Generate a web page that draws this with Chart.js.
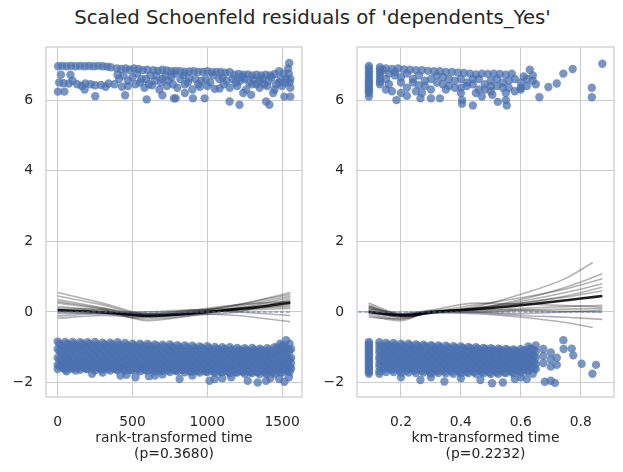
<!DOCTYPE html>
<html lang="en">
<head>
<meta charset="UTF-8">
<title>Scaled Schoenfeld residuals</title>
<script src="https://cdn.jsdelivr.net/npm/chart.js"></script>
<style>
    body { margin: 0; background: #ffffff; width: 623px; height: 472px; position: relative; overflow: hidden; }
    #title { position: absolute; left: 1px; top: 6px; width: 623px; text-align: center;
             font-family: 'DejaVu Sans'; font-size: 19.7px; color: #262626; line-height: 24px; }
    .panel { position: absolute; top: 0; }
    #panelRank { left: 0; }
    #panelKm { left: 311px; }
</style>
</head>
<body>
<div id="title">Scaled Schoenfeld residuals of 'dependents_Yes'</div>
<div class="panel" id="panelRank"><canvas id="chartRank" width="311" height="472"></canvas></div>
<div class="panel" id="panelKm"><canvas id="chartKm" width="312" height="472"></canvas></div>
<script>
// ---- axes ----
var yTicks = [-2, 0, 2, 4, 6];
var rankTicks = [0, 500, 1000, 1500];
var kmTicks = [0.2, 0.4, 0.6, 0.8];

// ---- rank-transformed time: residuals around +6.5 ----
var rankUpper = [
    [3,6.96],[30,6.97],[60,6.96],[90,6.97],[120,6.96],[150,6.97],[180,6.96],[210,6.97],[240,6.96],[270,6.97],[300,6.96],[330,6.95],[355,6.93],
    [395,6.9],[425,6.88],[455,6.9],[480,6.86],[510,6.9],[540,6.88],[570,6.85],[600,6.86],[640,6.85],[670,6.83],[700,6.86],[730,6.84],
    [760,6.82],[790,6.83],[820,6.82],[850,6.8],[880,6.81],[910,6.82],[940,6.8],[970,6.8],[1000,6.82],[1030,6.79],[1060,6.8],[1090,6.8],
    [1120,6.78],[1150,6.79],[1180,6.72],[1210,6.74],[1240,6.72],[1270,6.73],[1300,6.7],[1330,6.72],[1360,6.7],[1390,6.72],[1420,6.7],
    [1450,6.74],[1480,6.82],[1510,6.75],[1540,6.9],[1548,7.05],
    [22,6.72],[85,6.72],[400,6.72],[560,6.6],[620,6.7],[700,6.6],[760,6.65],[880,6.62],[960,6.55],[1080,6.6],[1250,6.6],[1350,6.55],
    [1530,6.6],[1480,6.5],
    [40,6.48],[75,6.47],[130,6.45],[185,6.47],[250,6.42],[290,6.43],[340,6.47],[380,6.45],[430,6.38],[470,6.4],[520,6.45],[580,6.35],
    [630,6.42],[680,6.3],[730,6.4],[800,6.35],[850,6.45],[900,6.3],[950,6.38],[1000,6.4],[1050,6.32],[1110,6.45],[1150,6.35],[1200,6.4],
    [1260,6.3],[1300,6.45],[1350,6.35],[1400,6.4],[1450,6.3],[1500,6.4],[1555,6.35],
    [410,6.6],[440,6.7],[470,6.55],[500,6.65],[530,6.75],[550,6.5],[590,6.6],[610,6.45],[650,6.55],[660,6.7],[690,6.5],[720,6.7],
    [740,6.55],[770,6.45],[780,6.75],[820,6.6],[840,6.7],[870,6.5],[920,6.6],[940,6.45],[990,6.6],[1020,6.5],[1040,6.7],[1100,6.65],
    [1130,6.55],[1170,6.6],[1190,6.5],[1220,6.55],[1230,6.65],[1280,6.5],[1310,6.6],[1330,6.45],[1370,6.6],[1380,6.45],[1410,6.55],
    [1430,6.65],[1460,6.45],[1490,6.6],[1520,6.5],[1545,6.75],[1550,6.5],[1555,6.6],
    [10,6.5],[100,6.55],[160,6.4],[220,6.45],[320,6.38],
    [2,6.24],[45,6.24],[180,6.3],[251,6.11],[451,6.14],[595,6.02],[700,6.14],[777,6.05],[789,6.05],[850,6.2],[904,6.05],[982,6.05],
    [1082,6.33],[1149,5.96],[1215,5.87],[1240,6.2],[1293,6.15],[1393,5.96],[1415,5.87],[1440,6.2],[1515,6.1],[1555,6.1]
];

// ---- rank-transformed time: dense band around -1.3, read as four interleaved row sets ----
var rankBandX = [0,50,100,150,200,250,300,350,400,450,500,550,600,650,700,750,800,850,900,950,1000,1050,1100,1150,1200,1250,1300,1350,1400,1450,1500,1550];
var rankBandRows = [
    [-0.84,-0.85,-0.85,-0.86,-0.86,-0.85,-0.87,-0.87,-0.86,-0.88,-0.9,-0.9,-0.91,-0.92,-0.93,-0.92,-0.94,-0.95,-0.96,-0.98,-0.97,-0.99,-1.0,-1.0,-1.02,-1.03,-1.02,-1.04,-1.03,-1.0,-0.95,-0.9],
    [-1.05,-1.04,-1.06,-1.05,-1.07,-1.06,-1.08,-1.07,-1.09,-1.08,-1.1,-1.11,-1.1,-1.12,-1.13,-1.12,-1.14,-1.15,-1.14,-1.16,-1.17,-1.16,-1.18,-1.19,-1.18,-1.2,-1.21,-1.2,-1.22,-1.18,-1.12,-1.1],
    [-1.3,-1.28,-1.3,-1.29,-1.31,-1.3,-1.32,-1.31,-1.33,-1.32,-1.33,-1.34,-1.33,-1.35,-1.34,-1.36,-1.35,-1.36,-1.37,-1.36,-1.38,-1.37,-1.38,-1.39,-1.38,-1.4,-1.39,-1.4,-1.41,-1.4,-1.38,-1.35],
    [-1.5,-1.48,-1.5,-1.49,-1.51,-1.5,-1.52,-1.5,-1.53,-1.52,-1.53,-1.54,-1.53,-1.55,-1.54,-1.56,-1.55,-1.56,-1.57,-1.56,-1.58,-1.57,-1.58,-1.59,-1.58,-1.6,-1.59,-1.6,-1.61,-1.6,-1.58,-1.55],
    [-1.62,-1.63,-1.6,-1.64,-1.62,-1.65,-1.63,-1.66,-1.64,-1.67,-1.65,-1.68,-1.66,-1.69,-1.67,-1.7,-1.68,-1.71,-1.69,-1.72,-1.7,-1.73,-1.71,-1.74,-1.72,-1.75,-1.73,-1.76,-1.74,-1.75,-1.72,-1.7]
];
var rankStaggerX = [25,75,125,175,225,275,325,375,425,475,525,575,625,675,725,775,825,875,925,975,1025,1075,1125,1175,1225,1275,1325,1375,1425,1475,1525];
var rankStaggerRows = [
    [-0.95,-0.94,-0.96,-0.95,-0.96,-0.97,-0.97,-0.98,-0.98,-0.99,-1.0,-1.0,-1.01,-1.02,-1.03,-1.03,-1.04,-1.05,-1.06,-1.07,-1.07,-1.08,-1.09,-1.1,-1.11,-1.12,-1.12,-1.13,-1.12,-1.08,-1.02],
    [-1.17,-1.16,-1.18,-1.17,-1.19,-1.18,-1.2,-1.19,-1.21,-1.2,-1.22,-1.22,-1.23,-1.23,-1.24,-1.24,-1.25,-1.25,-1.26,-1.26,-1.27,-1.27,-1.28,-1.28,-1.29,-1.3,-1.3,-1.31,-1.3,-1.28,-1.24],
    [-1.4,-1.39,-1.4,-1.4,-1.41,-1.41,-1.42,-1.41,-1.43,-1.42,-1.44,-1.43,-1.44,-1.45,-1.45,-1.46,-1.46,-1.46,-1.47,-1.47,-1.48,-1.48,-1.49,-1.49,-1.49,-1.5,-1.5,-1.51,-1.5,-1.49,-1.46],
    [-1.56,-1.57,-1.56,-1.57,-1.58,-1.58,-1.58,-1.59,-1.59,-1.6,-1.6,-1.61,-1.61,-1.62,-1.62,-1.63,-1.63,-1.64,-1.64,-1.65,-1.65,-1.66,-1.66,-1.67,-1.67,-1.68,-1.68,-1.69,-1.68,-1.66,-1.63]
];
var rankFillAX = [12,62,112,162,212,262,312,362,412,462,512,562,612,662,712,762,812,862,912,962,1012,1062,1112,1162,1212,1262,1312,1362,1412,1462,1512];
var rankFillARows = [
    [-0.9,-0.9,-0.91,-0.9,-0.91,-0.92,-0.92,-0.92,-0.93,-0.94,-0.95,-0.95,-0.96,-0.97,-0.98,-0.98,-0.99,-1.0,-1.01,-1.02,-1.03,-1.04,-1.05,-1.06,-1.07,-1.08,-1.07,-1.08,-1.07,-1.02,-0.96],
    [-1.11,-1.1,-1.12,-1.11,-1.13,-1.12,-1.14,-1.13,-1.15,-1.14,-1.16,-1.16,-1.17,-1.17,-1.18,-1.18,-1.19,-1.2,-1.2,-1.21,-1.22,-1.22,-1.23,-1.24,-1.24,-1.25,-1.25,-1.26,-1.26,-1.23,-1.18],
    [-1.35,-1.34,-1.35,-1.35,-1.36,-1.36,-1.37,-1.36,-1.38,-1.37,-1.38,-1.39,-1.39,-1.4,-1.4,-1.41,-1.41,-1.41,-1.42,-1.42,-1.43,-1.43,-1.44,-1.44,-1.44,-1.45,-1.45,-1.46,-1.46,-1.45,-1.42],
    [-1.53,-1.52,-1.53,-1.53,-1.54,-1.54,-1.55,-1.55,-1.56,-1.56,-1.57,-1.57,-1.57,-1.58,-1.58,-1.59,-1.59,-1.6,-1.6,-1.6,-1.61,-1.61,-1.62,-1.62,-1.63,-1.63,-1.64,-1.64,-1.64,-1.63,-1.6]
];
var rankFillBX = [37,87,137,187,237,287,337,387,437,487,537,587,637,687,737,787,837,887,937,987,1037,1087,1137,1187,1237,1287,1337,1387,1437,1487,1537];
var rankFillBRows = [
    [-1.0,-0.99,-1.01,-1.0,-1.02,-1.02,-1.03,-1.03,-1.04,-1.04,-1.05,-1.06,-1.06,-1.07,-1.08,-1.08,-1.09,-1.1,-1.1,-1.11,-1.12,-1.13,-1.13,-1.14,-1.15,-1.16,-1.16,-1.17,-1.17,-1.13,-1.06],
    [-1.24,-1.22,-1.24,-1.23,-1.25,-1.24,-1.26,-1.25,-1.27,-1.26,-1.28,-1.28,-1.28,-1.29,-1.29,-1.3,-1.3,-1.31,-1.31,-1.32,-1.32,-1.33,-1.33,-1.34,-1.34,-1.35,-1.35,-1.36,-1.36,-1.34,-1.3],
    [-1.45,-1.44,-1.45,-1.45,-1.46,-1.46,-1.47,-1.46,-1.48,-1.47,-1.49,-1.49,-1.49,-1.5,-1.5,-1.51,-1.51,-1.51,-1.52,-1.52,-1.53,-1.53,-1.54,-1.54,-1.54,-1.55,-1.55,-1.56,-1.56,-1.55,-1.52],
    [-1.59,-1.6,-1.58,-1.61,-1.6,-1.62,-1.61,-1.63,-1.62,-1.64,-1.63,-1.65,-1.64,-1.66,-1.65,-1.67,-1.66,-1.68,-1.67,-1.69,-1.68,-1.7,-1.69,-1.71,-1.7,-1.72,-1.71,-1.73,-1.72,-1.71,-1.68]
];
var rankLower = [
    [60,-1.68],[120,-1.66],[230,-1.75],[300,-1.72],[420,-1.8],[460,-1.78],[520,-1.85],[610,-1.82],[650,-1.8],[700,-1.77],[815,-1.9],
    [900,-1.8],[1015,-1.95],[1050,-1.9],[1100,-1.88],[1160,-1.85],[1270,-1.95],[1337,-2.0],[1393,-1.95],[1420,-1.88],[1480,-1.9],
    [1515,-1.98],[1545,-1.85],[1560,-1.6],[1560,-1.3],[1527,-0.8],[1487,-0.9],[1560,-1.05],[1560,-1.45]
];

// ---- rank-transformed time: lowess curves ----
var rankBestX = [0, 200, 400, 600, 800, 1000, 1200, 1400, 1555];
var rankBestY = [0.05, 0.02, -0.05, -0.11, -0.08, 0.0, 0.08, 0.17, 0.26];
var rankGreyX = [0, 300, 600, 900, 1200, 1555];
var rankGreyY = [
    [0.55, 0.25, -0.05, 0.0, 0.2, 0.5],
    [0.45, 0.2, -0.08, -0.02, 0.15, 0.45],
    [0.35, 0.12, -0.1, 0.02, 0.2, 0.55],
    [0.25, 0.08, -0.12, -0.05, 0.1, 0.3],
    [0.15, 0.05, -0.15, -0.05, 0.05, 0.2],
    [0.05, 0.0, -0.05, 0.05, 0.1, 0.15],
    [-0.05, -0.02, -0.1, 0.0, 0.05, 0.1],
    [-0.12, -0.05, -0.2, -0.1, 0.0, 0.35],
    [-0.18, -0.1, -0.15, -0.05, -0.1, -0.28],
    [0.1, 0.05, -0.25, -0.1, 0.1, 0.4],
    [0.0, -0.05, 0.0, 0.05, 0.0, -0.1],
    [0.3, 0.1, -0.05, 0.05, 0.2, 0.3]
];

// ---- km-transformed time: residuals around +6.5 ----
var kmUpper = [
    [0.093,6.97],[0.093,6.9],[0.093,6.82],[0.093,6.75],[0.093,6.68],[0.093,6.6],[0.093,6.55],[0.093,6.48],[0.093,6.42],[0.093,6.36],
    [0.093,6.3],[0.093,6.25],[0.093,6.2],[0.093,6.1],
    [0.13,6.93],[0.13,6.86],[0.13,6.78],[0.13,6.7],[0.13,6.6],[0.13,6.52],[0.13,6.45],
    [0.15,6.9],[0.17,6.88],[0.19,6.9],[0.21,6.87],[0.23,6.86],[0.25,6.85],[0.27,6.85],[0.29,6.83],[0.31,6.82],[0.33,6.82],[0.35,6.8],
    [0.37,6.8],[0.39,6.78],[0.41,6.77],[0.43,6.75],[0.45,6.73],[0.47,6.75],[0.49,6.74],[0.51,6.75],[0.53,6.74],[0.55,6.72],[0.57,6.75],
    [0.15,6.6],[0.16,6.45],[0.18,6.7],[0.2,6.5],[0.22,6.35],[0.24,6.6],[0.26,6.42],[0.28,6.55],[0.3,6.3],[0.32,6.5],[0.34,6.65],
    [0.36,6.4],[0.38,6.55],[0.4,6.35],[0.42,6.5],[0.44,6.6],[0.46,6.3],[0.48,6.45],[0.5,6.55],[0.52,6.4],[0.54,6.5],[0.56,6.35],
    [0.58,6.25],[0.6,6.5],[0.61,6.67],[0.62,6.4],[0.63,6.86],[0.64,6.55],
    [0.14,6.85],[0.16,6.75],[0.18,6.8],[0.2,6.65],[0.22,6.75],[0.24,6.5],[0.26,6.7],[0.28,6.4],[0.3,6.6],[0.32,6.7],[0.34,6.45],
    [0.36,6.6],[0.38,6.35],[0.4,6.6],[0.42,6.4],[0.44,6.45],[0.46,6.6],[0.48,6.3],[0.5,6.4],[0.52,6.6],[0.54,6.35],[0.56,6.55],
    [0.58,6.6],[0.6,6.35],[0.62,6.6],[0.64,6.7],[0.65,6.45],
    [0.15,6.3],[0.17,6.25],[0.2,6.2],[0.25,6.25],[0.27,6.2],[0.35,6.3],[0.4,6.2],[0.45,6.2],[0.5,6.25],[0.55,6.2],[0.6,6.3],
    [0.185,6.0],[0.22,6.12],[0.265,6.05],[0.3,6.05],[0.33,6.05],[0.404,6.0],[0.404,5.9],[0.44,5.85],[0.47,6.1],[0.505,6.15],
    [0.523,5.95],[0.553,5.85],[0.55,6.0],
    [0.662,6.08],[0.692,6.37],[0.72,6.47],[0.742,6.75],[0.773,6.88],[0.837,6.35],[0.837,6.08],[0.872,7.03]
];

// ---- km-transformed time: dense band around -1.3, read as four interleaved row sets ----
var kmBandX = [0.093,0.128,0.15,0.175,0.2,0.225,0.25,0.275,0.3,0.325,0.35,0.375,0.4,0.425,0.45,0.475,0.5,0.525,0.55,0.575,0.6,0.625,0.65];
var kmBandRows = [
    [-0.85,-0.86,-0.88,-0.88,-0.9,-0.9,-0.92,-0.93,-0.94,-0.95,-0.96,-0.97,-0.98,-0.99,-1.0,-1.02,-1.03,-1.04,-1.05,-1.06,-1.05,-0.98,-0.95],
    [-1.05,-1.06,-1.08,-1.08,-1.1,-1.1,-1.12,-1.12,-1.13,-1.14,-1.15,-1.15,-1.16,-1.17,-1.18,-1.19,-1.2,-1.2,-1.21,-1.22,-1.2,-1.15,-1.12],
    [-1.25,-1.27,-1.28,-1.28,-1.3,-1.3,-1.31,-1.32,-1.32,-1.33,-1.34,-1.34,-1.35,-1.36,-1.36,-1.37,-1.38,-1.38,-1.38,-1.4,-1.38,-1.33,-1.3],
    [-1.45,-1.47,-1.48,-1.49,-1.5,-1.5,-1.51,-1.52,-1.52,-1.53,-1.54,-1.54,-1.55,-1.55,-1.56,-1.57,-1.57,-1.58,-1.58,-1.58,-1.56,-1.5,-1.48],
    [-1.65,-1.68,-1.7,-1.7,-1.72,-1.72,-1.73,-1.72,-1.74,-1.73,-1.74,-1.75,-1.74,-1.73,-1.75,-1.74,-1.76,-1.75,-1.73,-1.74,-1.72,-1.68,-1.62]
];
var kmStaggerX = [0.14,0.1625,0.1875,0.2125,0.2375,0.2625,0.2875,0.3125,0.3375,0.3625,0.3875,0.4125,0.4375,0.4625,0.4875,0.5125,0.5375,0.5625,0.5875,0.6125,0.6375];
var kmStaggerRows = [
    [-0.97,-0.98,-0.99,-1.0,-1.01,-1.02,-1.03,-1.04,-1.05,-1.05,-1.06,-1.07,-1.08,-1.09,-1.1,-1.11,-1.12,-1.13,-1.14,-1.1,-1.05],
    [-1.18,-1.19,-1.2,-1.2,-1.21,-1.22,-1.22,-1.23,-1.24,-1.25,-1.25,-1.26,-1.27,-1.27,-1.28,-1.29,-1.3,-1.3,-1.3,-1.27,-1.22],
    [-1.38,-1.39,-1.4,-1.4,-1.41,-1.42,-1.42,-1.43,-1.43,-1.44,-1.45,-1.45,-1.46,-1.46,-1.47,-1.47,-1.48,-1.48,-1.48,-1.45,-1.4],
    [-1.58,-1.6,-1.61,-1.61,-1.62,-1.63,-1.63,-1.63,-1.64,-1.64,-1.65,-1.65,-1.65,-1.65,-1.66,-1.66,-1.67,-1.66,-1.65,-1.62,-1.58]
];
var kmFillAX = [0.156,0.181,0.206,0.231,0.256,0.281,0.306,0.331,0.356,0.381,0.406,0.431,0.456,0.481,0.506,0.531,0.556,0.581,0.606,0.631];
var kmFillARows = [
    [-0.93,-0.94,-0.95,-0.95,-0.96,-0.97,-0.98,-0.99,-1.0,-1.01,-1.02,-1.03,-1.04,-1.05,-1.06,-1.07,-1.08,-1.09,-1.1,-1.04],
    [-1.13,-1.14,-1.15,-1.15,-1.16,-1.17,-1.17,-1.18,-1.19,-1.2,-1.2,-1.21,-1.22,-1.23,-1.24,-1.25,-1.25,-1.26,-1.25,-1.2],
    [-1.33,-1.34,-1.35,-1.35,-1.36,-1.37,-1.37,-1.38,-1.38,-1.39,-1.4,-1.4,-1.41,-1.42,-1.42,-1.43,-1.43,-1.44,-1.43,-1.38],
    [-1.53,-1.54,-1.55,-1.56,-1.56,-1.57,-1.57,-1.58,-1.58,-1.59,-1.6,-1.6,-1.6,-1.61,-1.61,-1.62,-1.62,-1.62,-1.6,-1.55]
];
var kmFillBX = [0.144,0.169,0.194,0.219,0.244,0.269,0.294,0.319,0.344,0.369,0.394,0.419,0.444,0.469,0.494,0.519,0.544,0.569,0.594,0.619,0.644];
var kmFillBRows = [
    [-1.02,-1.03,-1.04,-1.05,-1.05,-1.06,-1.07,-1.08,-1.09,-1.1,-1.1,-1.11,-1.12,-1.13,-1.14,-1.15,-1.16,-1.16,-1.17,-1.13,-1.08],
    [-1.22,-1.23,-1.24,-1.25,-1.25,-1.26,-1.27,-1.27,-1.28,-1.29,-1.29,-1.3,-1.31,-1.31,-1.32,-1.33,-1.34,-1.34,-1.34,-1.3,-1.26],
    [-1.42,-1.43,-1.44,-1.45,-1.45,-1.46,-1.47,-1.47,-1.48,-1.49,-1.49,-1.5,-1.5,-1.51,-1.51,-1.52,-1.52,-1.53,-1.52,-1.48,-1.44],
    [-1.62,-1.64,-1.65,-1.66,-1.66,-1.67,-1.68,-1.68,-1.68,-1.69,-1.69,-1.7,-1.7,-1.7,-1.71,-1.71,-1.71,-1.7,-1.69,-1.66,-1.6]
];
var kmLower = [
    [0.093,-0.9],[0.093,-0.95],[0.093,-1.0],[0.093,-1.1],[0.093,-1.15],[0.093,-1.2],[0.093,-1.3],[0.093,-1.35],[0.093,-1.4],
    [0.093,-1.5],[0.093,-1.55],[0.093,-1.6],[0.093,-1.7],[0.093,-1.75],
    [0.128,-0.95],[0.128,-1.15],[0.128,-1.35],[0.128,-1.55],[0.128,-1.75],
    [0.675,-1.05],[0.675,-1.25],[0.675,-1.45],[0.7,-1.15],[0.7,-1.35],[0.7,-1.55],[0.72,-1.3],[0.72,-1.5],[0.742,-0.8],[0.743,-1.05],
    [0.77,-1.04],[0.775,-1.23],[0.803,-1.47],[0.851,-1.5],[0.839,-1.75],[0.504,-2.02],[0.54,-2.0],[0.58,-1.9],[0.62,-1.9],[0.64,-1.75],
    [0.68,-1.98],[0.7,-1.95],[0.714,-2.01],[0.265,-1.93],[0.345,-1.97],[0.465,-1.93],[0.2,-1.85],[0.4,-1.88],[0.3,-1.85],[0.6,-1.85]
];

// ---- km-transformed time: lowess curves ----
var kmBestX = [0.092, 0.15, 0.22, 0.3, 0.4, 0.5, 0.6, 0.7, 0.8, 0.872];
var kmBestY = [0.0, -0.06, -0.1, -0.02, 0.05, 0.11, 0.19, 0.28, 0.38, 0.45];
var kmGreyX = [0.092, 0.2, 0.3, 0.45, 0.6, 0.75];
var kmGreyEnd = [0.84, 0.872, 0.872, 0.872, 0.872, 0.872, 0.872, 0.872, 0.872, 0.872, 0.84, 0.872, 0.872];
var kmGreyY = [
    [0.15, -0.05, 0.0, 0.15, 0.5, 0.95, 1.4],
    [0.1, -0.1, 0.0, 0.1, 0.35, 0.7, 1.08],
    [0.25, -0.05, 0.02, 0.2, 0.4, 0.65, 0.94],
    [0.05, -0.15, -0.02, 0.1, 0.3, 0.55, 0.8],
    [-0.05, -0.2, 0.0, 0.08, 0.25, 0.45, 0.7],
    [0.2, -0.08, 0.0, 0.12, 0.25, 0.42, 0.6],
    [0.0, -0.12, 0.03, 0.05, 0.1, 0.15, 0.19],
    [0.1, -0.05, 0.05, 0.25, 0.22, 0.18, 0.14],
    [-0.1, -0.25, 0.0, 0.0, 0.05, 0.08, 0.1],
    [0.15, -0.1, 0.02, 0.0, -0.05, 0.0, 0.05],
    [0.0, -0.15, -0.03, -0.05, -0.15, -0.3, -0.44],
    [0.05, -0.1, 0.0, -0.02, -0.1, -0.15, -0.21],
    [-0.15, -0.2, 0.0, 0.05, 0.05, 0.02, 0.0]
];

// ---- style ----
var FONT = 'DejaVu Sans';
var TEXT = '#262626';
var GRID = '#cccccc';
var DOT = 'rgba(76, 114, 176, 0.75)';
var ZERO = '#4c72b0';

function toPoints(pairs) {
    return pairs.map(function (p) { return { x: p[0], y: p[1] }; });
}
function bandPoints(xs, rows) {
    var pts = [];
    rows.forEach(function (row) {
        row.forEach(function (y, i) { pts.push({ x: xs[i], y: y }); });
    });
    return pts;
}
function zip(xs, ys) {
    return ys.map(function (y, i) { return { x: xs[i], y: y }; });
}
function fmtY(v) {
    return v < 0 ? '\u2212' + Math.abs(v) : String(v);
}

var frame = {
    id: 'frame',
    afterDatasetsDraw: function (chart) {
        var a = chart.chartArea, ctx = chart.ctx;
        ctx.save();
        ctx.strokeStyle = GRID;
        ctx.lineWidth = 1.25;
        ctx.strokeRect(a.left, a.top, a.right - a.left, a.bottom - a.top);
        ctx.restore();
    }
};

function lineSet(data, color, width, dash) {
    return {
        data: data, showLine: true, borderColor: color, borderWidth: width,
        borderDash: dash || [], pointRadius: 0, pointHoverRadius: 0,
        cubicInterpolationMode: dash ? 'default' : 'monotone', fill: false
    };
}

function makeChart(canvasId, cfg) {
    var datasets = [];
    datasets.push(lineSet([{ x: 0, y: 0 }, { x: cfg.zeroEnd, y: 0 }], ZERO, 1.1, [4, 1.7]));
    cfg.greys.forEach(function (g) { datasets.push(lineSet(g, 'rgba(0,0,0,0.3)', 1.6)); });
    datasets.push(lineSet(cfg.best, 'rgba(0,0,0,0.88)', 2.6));
    datasets.push({
        data: cfg.points, backgroundColor: DOT, borderWidth: 0,
        pointRadius: 4.2, pointHoverRadius: 4.2, showLine: false
    });

    return new Chart(document.getElementById(canvasId), {
        type: 'scatter',
        data: { datasets: datasets },
        options: {
            responsive: false,
            animation: false,
            devicePixelRatio: 1,
            layout: { padding: { top: 47, right: cfg.padRight, left: 0, bottom: 0 } },
            plugins: { legend: { display: false }, tooltip: { enabled: false } },
            scales: {
                x: {
                    type: 'linear', min: cfg.xMin, max: cfg.xMax,
                    // invisible tick marks push the labels down without widening the side padding
                    grid: { color: GRID, lineWidth: 1, drawTicks: true, tickLength: 14, tickColor: 'rgba(0,0,0,0)' },
                    border: { display: false },
                    afterBuildTicks: function (s) { s.ticks = cfg.xTicks.map(function (v) { return { value: v }; }); },
                    afterFit: function (s) { s.height = 75; },
                    ticks: {
                        color: TEXT, padding: 3, maxRotation: 0,
                        font: { family: FONT, size: 13.9 },
                        callback: function (v) { return String(v); }
                    },
                    title: {
                        display: true, text: cfg.xTitle, color: TEXT,
                        font: { family: FONT, size: 13.9, lineHeight: 1.12 },
                        padding: { top: 0, bottom: 10 }
                    }
                },
                y: {
                    type: 'linear', min: -2.41, max: 7.505,
                    grid: { color: GRID, lineWidth: 1, drawTicks: false },
                    border: { display: false },
                    afterBuildTicks: function (s) { s.ticks = yTicks.map(function (v) { return { value: v }; }); },
                    afterFit: function (s) { s.width = 46; },
                    ticks: {
                        color: TEXT, padding: 13,
                        font: { family: FONT, size: 13.9 },
                        callback: fmtY
                    }
                }
            }
        },
        plugins: [frame]
    });
}

makeChart('chartRank', {
    points: toPoints(rankUpper).concat(
        bandPoints(rankBandX, rankBandRows), bandPoints(rankStaggerX, rankStaggerRows),
        bandPoints(rankFillAX, rankFillARows), bandPoints(rankFillBX, rankFillBRows), toPoints(rankLower)),
    best: zip(rankBestX, rankBestY),
    greys: rankGreyY.map(function (ys) { return zip(rankGreyX, ys); }),
    zeroEnd: 1555,
    xMin: -78, xMax: 1633, xTicks: rankTicks, padRight: 9,
    xTitle: ['rank-transformed time', '(p=0.3680)']
});

makeChart('chartKm', {
    points: toPoints(kmUpper).concat(
        bandPoints(kmBandX, kmBandRows), bandPoints(kmStaggerX, kmStaggerRows),
        bandPoints(kmFillAX, kmFillARows), bandPoints(kmFillBX, kmFillBRows), toPoints(kmLower)),
    best: zip(kmBestX, kmBestY),
    greys: kmGreyY.map(function (ys, i) { return zip(kmGreyX.concat([kmGreyEnd[i]]), ys); }),
    zeroEnd: 0.872,
    xMin: 0.0533, xMax: 0.911, xTicks: kmTicks, padRight: 9,
    xTitle: ['km-transformed time', '(p=0.2232)']
});
</script>
</body>
</html>
